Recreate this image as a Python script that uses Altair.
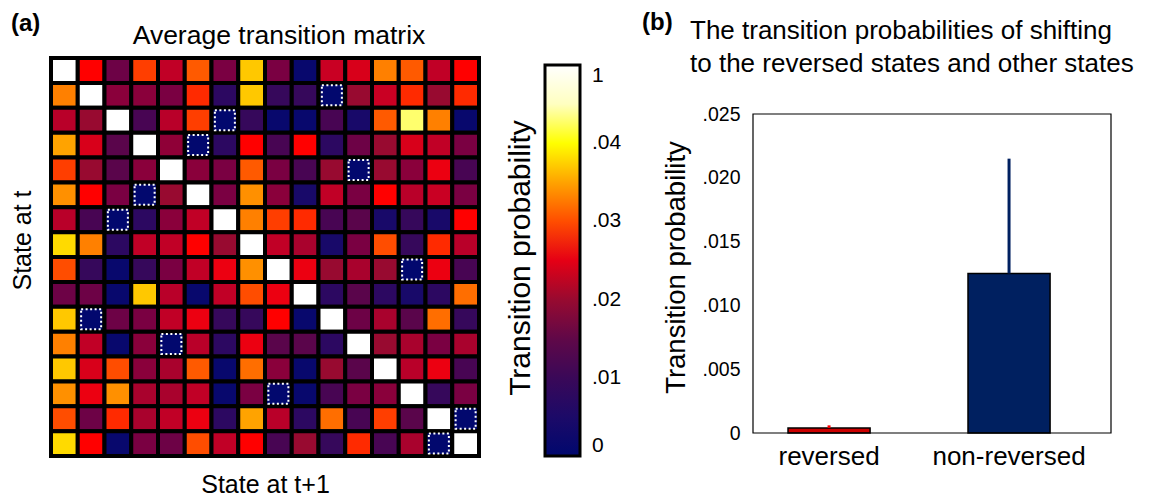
import altair as alt
import pandas as pd

R = 0.0003  # reversed-state cells (dotted, near zero)
D = 1.0     # diagonal (self transition)

matrix_rows = [
    [D, 0.027, 0.016, 0.029, 0.0225, 0.031, 0.017, 0.037, 0.017, 0.001, 0.023, 0.024, 0.033, 0.031, 0.0225, 0.027],
    [0.033, D, 0.0185, 0.0185, 0.017, 0.028, 0.007, 0.037, 0.009, 0.009, R, 0.020, 0.023, 0.028, 0.020, 0.028],
    [0.022, 0.020, D, 0.0115, 0.022, 0.029, R, 0.009, 0.001, 0.001, 0.0115, 0.004, 0.031, 0.042, 0.033, 0.001],
    [0.035, 0.024, 0.014, D, 0.019, R, 0.007, 0.027, 0.0115, 0.027, 0.007, 0.016, 0.020, 0.024, 0.0225, 0.017],
    [0.029, 0.020, 0.014, 0.0185, D, 0.0185, 0.017, 0.031, 0.017, 0.0115, 0.020, R, 0.020, 0.0185, 0.0255, 0.0115],
    [0.034, 0.027, 0.017, R, 0.020, D, 0.017, 0.034, 0.0185, 0.004, 0.0225, 0.017, 0.027, 0.022, 0.023, 0.017],
    [0.022, 0.0115, R, 0.007, 0.0185, 0.0225, D, 0.033, 0.029, 0.028, 0.0115, 0.014, 0.004, 0.009, 0.004, 0.027],
    [0.038, 0.033, 0.007, 0.0225, 0.0225, 0.027, 0.020, D, 0.0225, 0.021, 0.004, 0.017, 0.030, 0.009, 0.028, 0.022],
    [0.030, 0.009, 0.001, 0.009, 0.017, 0.0225, 0.0255, 0.034, D, 0.0255, 0.020, 0.021, 0.020, R, 0.0255, 0.0115],
    [0.016, 0.016, 0.001, 0.037, 0.022, 0.001, 0.0225, 0.030, 0.0255, D, 0.007, 0.014, 0.007, 0.004, 0.007, 0.032],
    [0.037, R, 0.016, 0.017, 0.0225, 0.0255, 0.009, 0.009, 0.027, 0.001, D, 0.016, 0.021, 0.014, 0.032, 0.009],
    [0.033, 0.0225, 0.001, 0.0185, R, 0.022, 0.007, 0.0255, 0.014, 0.014, 0.007, D, 0.020, 0.021, 0.017, 0.021],
    [0.037, 0.024, 0.030, 0.0185, 0.021, 0.031, 0.001, 0.032, 0.0185, 0.001, 0.020, 0.014, D, 0.022, 0.0255, 0.0115],
    [0.034, 0.0255, 0.034, 0.021, 0.021, 0.0225, 0.001, 0.017, R, 0.001, 0.0115, 0.017, 0.0185, D, 0.009, 0.017],
    [0.030, 0.016, 0.028, 0.021, 0.0225, 0.0255, 0.007, 0.035, 0.022, 0.007, 0.032, 0.0115, 0.029, 0.014, D, R],
    [0.038, 0.027, 0.001, 0.017, 0.016, 0.030, 0.0225, 0.027, 0.0115, 0.020, 0.009, 0.028, 0.0115, 0.021, R, D],
]

reversed_pairs = [(1, 10), (10, 1), (2, 6), (6, 2), (3, 5), (5, 3),
                  (4, 11), (11, 4), (8, 13), (13, 8), (14, 15), (15, 14)]

color_stops = [0, 0.005, 0.01, 0.015, 0.02, 0.024, 0.027, 0.031, 0.034, 0.037, 0.040, 0.045, 0.048, 0.05]
color_values = ["#00086e", "#1c0a68", "#3a0858", "#600848", "#980a30", "#d8001a", "#ff0000",
                "#ff5a00", "#ff9000", "#ffc800", "#ffff00", "#ffffc0", "#ffffff", "#ffffff"]
legend_ticks = [0, 0.01, 0.02, 0.03, 0.04, 0.05]

categories = ["reversed", "non-reversed"]
means = [0.0004, 0.0125]
uppers = [0.0006, 0.0215]
bar_fills = ["#cc0000", "#002060"]
err_colors = ["#ff0000", "#002060"]
bar_ticks = [0, 0.005, 0.010, 0.015, 0.020, 0.025]
bar_domain = [0, 0.025]

title_a = "Average transition matrix"
title_b = ["The transition probabilities of  shifting", "to the reversed states and  other states"]

FONT = "Liberation Sans"

records = []
for i, row in enumerate(matrix_rows):
    for j, v in enumerate(row):
        records.append({"from": i, "to": j, "p": v})
df = pd.DataFrame(records)
rev_df = pd.DataFrame([{"from": a, "to": b} for a, b in reversed_pairs])

# ---------------- (a) heatmap ----------------
x_heat = alt.X("to:O", title="State at t+1",
               axis=alt.Axis(labels=False, ticks=False, domain=False, titleFontSize=25,
                             titleFontWeight="normal", titlePadding=16, titleColor="black"))
y_heat = alt.Y("from:O", title="State at t",
               axis=alt.Axis(labels=False, ticks=False, domain=False, titleFontSize=25,
                             titleFontWeight="normal", titlePadding=16, titleColor="black",
                             titleY=182))

heat = alt.Chart(df).transform_calculate(
    pc="min(datum.p, 0.05)"
).mark_rect(stroke="black", strokeWidth=4).encode(
    x=x_heat, y=y_heat,
    color=alt.Color("pc:Q", scale=alt.Scale(domain=color_stops, range=color_values, clamp=True),
                    legend=alt.Legend(title="Transition probability", titleOrient="left",
                                      titleFontSize=30, titleFontWeight="normal", titleLimit=500,
                                      titleColor="black", titlePadding=8, titleAnchor="middle",
                                      gradientLength=391, gradientThickness=35,
                                      gradientStrokeColor="black", gradientStrokeWidth=3,
                                      labelFontSize=21, labelColor="black", labelOffset=12,
                                      labelBaseline="middle",
                                      values=legend_ticks,
                                      labelExpr="datum.value >= 0.05 ? '1' : datum.value == 0 ? '0' : replace(format(datum.value, '.2f'), '0.', '.')",
                                      direction="vertical", orient="right", offset=20, padding=7))
)

dots = alt.Chart(rev_df).mark_point(shape="square", size=400, filled=False, color="white",
                                    strokeWidth=2, strokeDash=[2, 2.5], opacity=1).encode(
    x="to:O", y="from:O")

ann_a = alt.Chart(pd.DataFrame({"t": ["(a)"]})).mark_text(
    fontSize=24, fontWeight="bold", align="left", baseline="top", color="black").encode(
    text="t:N", x=alt.value(-40), y=alt.value(-46))
ann_a_title = alt.Chart(pd.DataFrame({"t": [title_a]})).mark_text(
    fontSize=26.5, align="center", baseline="alphabetic", color="black").encode(
    text="t:N", x=alt.value(228), y=alt.value(-14))

left = alt.layer(heat, dots, ann_a, ann_a_title).properties(width=428, height=398)

# ---------------- (b) bar chart ----------------
bdf = pd.DataFrame({"cat": categories, "mean": means, "upper": uppers,
                    "fill": bar_fills, "err": err_colors})

xb = alt.X("cat:N", sort=categories,
           scale=alt.Scale(paddingInner=0.544, paddingOuter=0.2665, align=0.365),
           axis=alt.Axis(title=None, labelAngle=0, labelAlign="center", labelFontSize=26,
                         ticks=False, domain=False, labelPadding=10, labelColor="black"))
yb = alt.Y("mean:Q", scale=alt.Scale(domain=bar_domain, range=[375, 56], nice=False),
           axis=alt.Axis(title="Transition probability", values=bar_ticks, ticks=False,
                         domain=False, grid=False, labelFontSize=19.5, labelColor="black",
                         labelPadding=13, titleFontSize=27.5, titleFontWeight="normal",
                         titleColor="black", titlePadding=12, titleY=209,
                         labelExpr="datum.value == 0 ? '0' : replace(format(datum.value, '.3f'), '0.', '.')"))

frame = alt.Chart(pd.DataFrame({"lo": [bar_domain[0]], "hi": [bar_domain[1]]})).mark_rect(
    fillOpacity=0, stroke="black", strokeWidth=1.2).encode(
    y=alt.Y("hi:Q", scale=alt.Scale(domain=bar_domain, range=[375, 56], nice=False)),
    y2="lo:Q")

err = alt.Chart(bdf).mark_rule(strokeWidth=3).encode(
    x=alt.X("cat:N", sort=categories), y="mean:Q", y2="upper:Q",
    color=alt.Color("err:N", scale=None))
bars = alt.Chart(bdf).mark_bar(stroke="black", strokeWidth=1.5).encode(
    x=xb, y=yb, fill=alt.Fill("fill:N", scale=None))

ann_b = alt.Chart(pd.DataFrame({"t": ["(b)"]})).mark_text(
    fontSize=24, fontWeight="bold", align="left", baseline="top", color="black").encode(
    text="t:N", x=alt.value(-111), y=alt.value(-47))
ann_b_title = alt.Chart(pd.DataFrame({"t": [title_b]})).mark_text(
    fontSize=26, align="left", baseline="alphabetic", color="black", lineHeight=33).encode(
    text="t:N", x=alt.value(-63), y=alt.value(-19))

right = alt.layer(bars, err, frame, ann_b, ann_b_title).properties(width=358, height=375)

chart = alt.hconcat(left, right, spacing=13).resolve_scale(
    color="independent"
).properties(
    padding={"left": 10, "top": 11, "right": 0, "bottom": 0}
).configure(font=FONT).configure_view(strokeWidth=0)

chart.save("out.html", embed_options={"renderer": "svg", "actions": False})
